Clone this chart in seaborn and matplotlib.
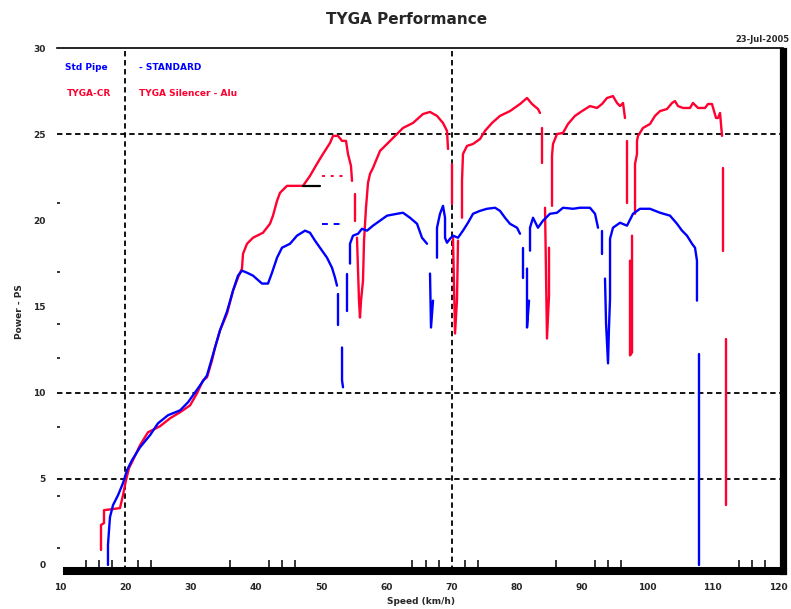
import numpy as np
import pandas as pd
import matplotlib
matplotlib.use("Agg")
import matplotlib.pyplot as plt
import seaborn as sns

nan = np.nan

# ---------------- data ----------------
x_ticks = [10, 20, 30, 40, 50, 60, 70, 80, 90, 100, 110, 120]
y_ticks = [0, 5, 10, 15, 20, 25, 30]
x_minor = [14, 16, 18, 22, 24, 36, 42, 44, 46, 64, 66, 68, 72, 74, 86, 92, 94, 96, 114, 116, 118]
y_minor = [1, 4, 8, 12, 14, 17, 21]
grid_x = [20, 70]
grid_y = [5, 10, 25]

series_names = ["TYGA", "Standard"]
series_colors = ["#ff0030", "#0000ff"]

red_x = [16.28, 16.28, 16.28, 16.74, 16.74, 19.19, 19.65, 20.11, 20.57, 21.18, 22.26, 23.48, 25.32, 26.85,
         28.39, 29.92, 30.99, 31.91, 32.52, 33.29, 33.75, 34.51, 35.59, 36.51, 37.27, 37.88, 38.04, 38.65,
         39.57, 41.10, 42.17, 42.63, 43.25, 43.71, 44.78, 47.23, 48.30, 49.37, 50.29, 51.37, 51.83, 52.59,
         53.21, 53.82, 54.12, 54.58, 54.74, nan,
         55.20, 55.20, nan,
         55.50, 55.81, 55.96, 56.12, 56.42, 56.58, 56.88, 57.19, 57.50, 57.95, 59.03, 60.10, 61.63, 62.55,
         64.08, 65.62, 66.69, 67.76, 68.68, 69.29, 69.45, nan,
         70.06, 70.06, nan,
         70.21, 70.52, 70.82, 70.98, nan,
         71.59, 71.59, 71.74, 72.36, 73.28, 74.35, 75.11, 76.19, 77.41, 78.94, 80.48, 81.55, 82.32, 83.23,
         83.54, nan,
         83.85, 83.85, nan,
         84.31, 84.61, 84.92, 84.92, nan,
         85.38, 85.38, 85.53, 86.15, 87.06, 87.83, 88.90, 89.98, 91.20, 92.27, 93.04, 93.81, 94.72, 95.34,
         95.80, 96.26, 96.56, nan,
         96.87, 96.87, nan,
         97.33, 97.33, 97.64, 97.64, nan,
         98.10, 98.10, 98.40, 98.40, 98.56, 99.32, 100.39, 101.16, 101.93, 103.00, 103.77, 104.22, 104.68,
         105.45, 106.52, 106.98, 107.75, 108.82, 109.28, 109.89, 110.20, 110.51, 110.81, 111.12, 111.43, nan,
         111.58, 111.58, nan,
         112.04, 112.04]
red_y = [0.87, 1.45, 2.32, 2.43, 3.18, 3.30, 4.05, 4.92, 5.62, 6.08, 6.95, 7.70, 8.05, 8.51,
         8.86, 9.26, 9.96, 10.71, 10.89, 11.87, 12.62, 13.61, 14.59, 15.92, 16.68, 17.20, 18.06, 18.64,
         18.99, 19.28, 19.80, 20.27, 21.13, 21.60, 22.00, 22.00, 22.58, 23.28, 23.85, 24.49, 24.90, 24.90,
         24.61, 24.61, 23.85, 23.16, 22.29, nan,
         21.54, 19.98, nan,
         18.99, 15.34, 14.36, 15.34, 16.50, 18.82, 20.73, 22.18, 22.70, 23.04, 24.03, 24.43, 25.01, 25.36,
         25.65, 26.17, 26.29, 26.06, 25.65, 25.19, 24.14, nan,
         23.28, 20.96, nan,
         18.99, 13.43, 15.34, 18.82, nan,
         20.15, 22.29, 23.85, 24.32, 24.43, 24.72, 25.19, 25.65, 26.06, 26.34, 26.75, 27.10, 26.75, 26.46,
         26.23, nan,
         25.36, 23.33, nan,
         20.73, 13.14, 15.63, 18.41, nan,
         20.84, 23.74, 24.43, 25.01, 25.07, 25.59, 26.06, 26.34, 26.63, 26.52, 26.75, 27.10, 27.21, 26.81,
         26.63, 26.81, 25.94, nan,
         24.61, 21.02, nan,
         17.66, 12.16, 12.33, 19.11, nan,
         20.38, 23.28, 23.85, 24.61, 24.90, 25.36, 25.59, 26.06, 26.34, 26.46, 26.81, 26.92, 26.63,
         26.52, 26.52, 26.81, 26.52, 26.52, 26.75, 26.75, 26.34, 25.94, 25.94, 26.23, 24.90, nan,
         23.04, 18.24, nan,
         13.14, 3.47]

blue_x = [17.35, 17.35, 17.51, 17.66, 18.12, 18.89, 19.65, 20.27, 21.03, 22.26, 23.79, 25.01, 26.55, 28.39,
          29.61, 31.14, 32.52, 33.75, 34.51, 35.59, 36.51, 37.27, 37.88, 38.65, 39.57, 40.95, 41.87, 42.48,
          43.25, 44.01, 45.24, 46.31, 47.54, 48.30, 49.07, 49.83, 50.91, 51.67, 52.13, 52.44, nan,
          52.59, 52.59, nan,
          53.21, 53.21, 53.36, nan,
          53.97, 53.97, nan,
          54.43, 54.43, 54.89, 55.66, 56.27, 57.04, 57.95, 59.03, 60.10, 61.63, 62.55, 63.62, 64.70, 65.46,
          66.23, nan,
          66.69, 66.84, 67.15, nan,
          67.76, 67.76, 68.22, 68.68, 68.99, 68.99, 69.29, 69.75, 70.21, 70.98, 71.74, 72.51, 73.28, 74.35,
          75.42, 76.65, 77.41, 78.18, 78.94, 80.02, 80.48, nan,
          80.94, 80.94, nan,
          81.55, 81.55, 81.86, nan,
          82.01, 82.01, 82.47, 83.23, 84.00, 85.07, 86.15, 87.06, 88.60, 89.67, 91.20, 91.97, 92.43, nan,
          93.04, 93.04, nan,
          93.50, 93.66, 93.96, 94.11, 94.27, 94.27, 94.72, 95.80, 96.87, 97.79, 98.86, 100.39, 101.93,
          103.46, 104.53, 105.30, 106.06, 106.83, 107.29, 107.59, 107.59, nan,
          107.90, 107.90]
blue_y = [0.0, 1.16, 2.03, 2.78, 3.47, 4.05, 4.75, 5.50, 6.08, 6.83, 7.53, 8.22, 8.69, 8.97,
          9.44, 10.25, 11.00, 12.62, 13.61, 14.71, 15.92, 16.79, 17.08, 16.96, 16.79, 16.33, 16.33, 16.96,
          17.83, 18.41, 18.64, 19.11, 19.40, 19.28, 18.82, 18.41, 17.83, 17.25, 16.68, 16.21, nan,
          15.75, 13.90, nan,
          12.62, 10.71, 10.31, nan,
          14.76, 16.91, nan,
          17.49, 18.64, 19.11, 19.22, 19.51, 19.40, 19.69, 19.98, 20.27, 20.38, 20.44, 20.15, 19.80, 18.99,
          18.64, nan,
          16.91, 13.78, 15.34, nan,
          17.83, 19.57, 20.38, 20.84, 20.15, 18.99, 18.70, 18.93, 19.11, 18.99, 19.40, 19.86, 20.38, 20.55,
          20.67, 20.73, 20.55, 20.15, 19.80, 19.57, 19.22, nan,
          18.41, 16.68, nan,
          17.20, 13.78, 15.34, nan,
          18.24, 19.57, 20.15, 19.57, 19.98, 20.38, 20.44, 20.73, 20.67, 20.73, 20.73, 20.38, 19.57, nan,
          19.40, 18.06, nan,
          16.62, 14.01, 11.70, 13.78, 15.46, 18.93, 19.57, 19.86, 19.69, 20.38, 20.67, 20.67, 20.44,
          20.27, 19.80, 19.40, 19.11, 18.64, 18.41, 17.66, 15.34, nan,
          12.27, 0.0]

# small peak markers drawn near the first peak
mark_black_x = [47.2, 49.8]
mark_black_y = [22.0, 22.0]
mark_red_x = [50.1, 53.3]
mark_red_y = [22.6, 22.6]
mark_blue_x = [50.1, 53.6]
mark_blue_y = [19.8, 19.8]

title = "TYGA Performance"
date_text = "23-Jul-2005"
x_label = "Speed (km/h)"
y_label = "Power - PS"
legend_blue = ("Std Pipe", "- STANDARD")
legend_red = ("TYGA-CR", "TYGA Silencer - Alu")

assert len(red_x) == len(red_y) and len(blue_x) == len(blue_y)


def to_frame(name, xs, ys):
    xs = np.asarray(xs, float)
    ys = np.asarray(ys, float)
    brk = np.isnan(xs) | np.isnan(ys)
    seg = np.cumsum(brk)
    df = pd.DataFrame({"x": xs, "y": ys, "series": name,
                       "seg": [f"{name}-{s}" for s in seg]})
    return df[~brk]


df = pd.concat([to_frame(series_names[0], red_x, red_y),
                to_frame(series_names[1], blue_x, blue_y)], ignore_index=True)

# ---------------- figure ----------------
sns.set_style("white")
plt.rcParams["font.family"] = ["DejaVu Sans"]

W, H = 791, 609
fig = plt.figure(figsize=(W / 100, H / 100), dpi=100)
ax = fig.add_axes([57 / W, 1 - 571 / H, (783 - 57) / W, (571 - 48) / H])

ax.set_xlim(9.54, 120.77)
ax.set_ylim(-0.35, 30.0)

# reference grid lines
for gx in grid_x:
    ax.axvline(gx, color="black", lw=1.3, ls=(0, (3, 2)), zorder=1)
for gy in grid_y:
    ax.axhline(gy, color="black", lw=1.3, ls=(0, (3, 2)), zorder=1)

sns.lineplot(data=df, x="x", y="y", hue="series", units="seg", estimator=None, sort=False,
             hue_order=series_names, palette=dict(zip(series_names, series_colors)),
             linewidth=1.7, legend=False, ax=ax, zorder=3)

sns.lineplot(x=mark_black_x, y=mark_black_y, color="black", lw=1.6, ax=ax, zorder=4)
sns.lineplot(x=mark_red_x, y=mark_red_y, color=series_colors[0], lw=1.4, ls=(0, (1.5, 3)), ax=ax, zorder=4)
sns.lineplot(x=mark_blue_x, y=mark_blue_y, color=series_colors[1], lw=1.4, ls=(0, (3, 3)), ax=ax, zorder=4)

# spines
ax.spines["left"].set_visible(False)
ax.spines["top"].set_linewidth(1.2)
ax.spines["right"].set_linewidth(5.2)
ax.spines["right"].set_bounds(-0.35, 29.85)
ax.spines["bottom"].set_linewidth(5.8)
ax.spines["bottom"].set_bounds(11.0, 120.77)
for s in ax.spines.values():
    s.set_color("black")

# ticks
ax.set_xticks(x_ticks)
ax.set_xticklabels([str(v) for v in x_ticks])
ax.set_xticks(x_minor, minor=True)
ax.set_yticks(y_ticks)
ax.set_yticklabels([str(v) for v in y_ticks])
ax.set_yticks(y_minor, minor=True)
ax.tick_params(axis="x", which="major", length=0, pad=9, labelsize=6.5)
ax.tick_params(axis="x", which="minor", direction="in", length=8, width=1.3, bottom=True)
ax.tick_params(axis="y", which="major", length=0, pad=8, labelsize=6.5)
ax.tick_params(axis="y", which="minor", direction="in", length=2.5, width=1.3, left=True)
for lab in ax.get_xticklabels() + ax.get_yticklabels():
    lab.set_fontweight("bold")

ax.set_xlabel("")
ax.set_ylabel("")
fig.text(421 / W, 1 - 601 / H, x_label, ha="center", va="center", fontsize=6.5, fontweight="bold")
fig.text(20 / W, 1 - 312 / H, y_label, ha="center", va="center", rotation=90, fontsize=6.5,
         fontweight="bold")

# title and date
fig.text(407 / W, 1 - 20 / H, title, ha="center", va="center", fontsize=11, fontweight="bold")
fig.text(789 / W, 1 - 39 / H, date_text, ha="right", va="center", fontsize=6, fontweight="bold")

# legend texts
fig.text(65 / W, 1 - 67 / H, legend_blue[0], ha="left", va="center", fontsize=6.5,
         color=series_colors[1], fontweight="bold")
fig.text(139 / W, 1 - 67 / H, legend_blue[1], ha="left", va="center", fontsize=6.5,
         color=series_colors[1], fontweight="bold")
fig.text(67 / W, 1 - 93 / H, legend_red[0], ha="left", va="center", fontsize=6.5,
         color=series_colors[0], fontweight="bold")
fig.text(139 / W, 1 - 93 / H, legend_red[1], ha="left", va="center", fontsize=6.5,
         color=series_colors[0], fontweight="bold")

fig.savefig("out.png", dpi=100, facecolor="white")
